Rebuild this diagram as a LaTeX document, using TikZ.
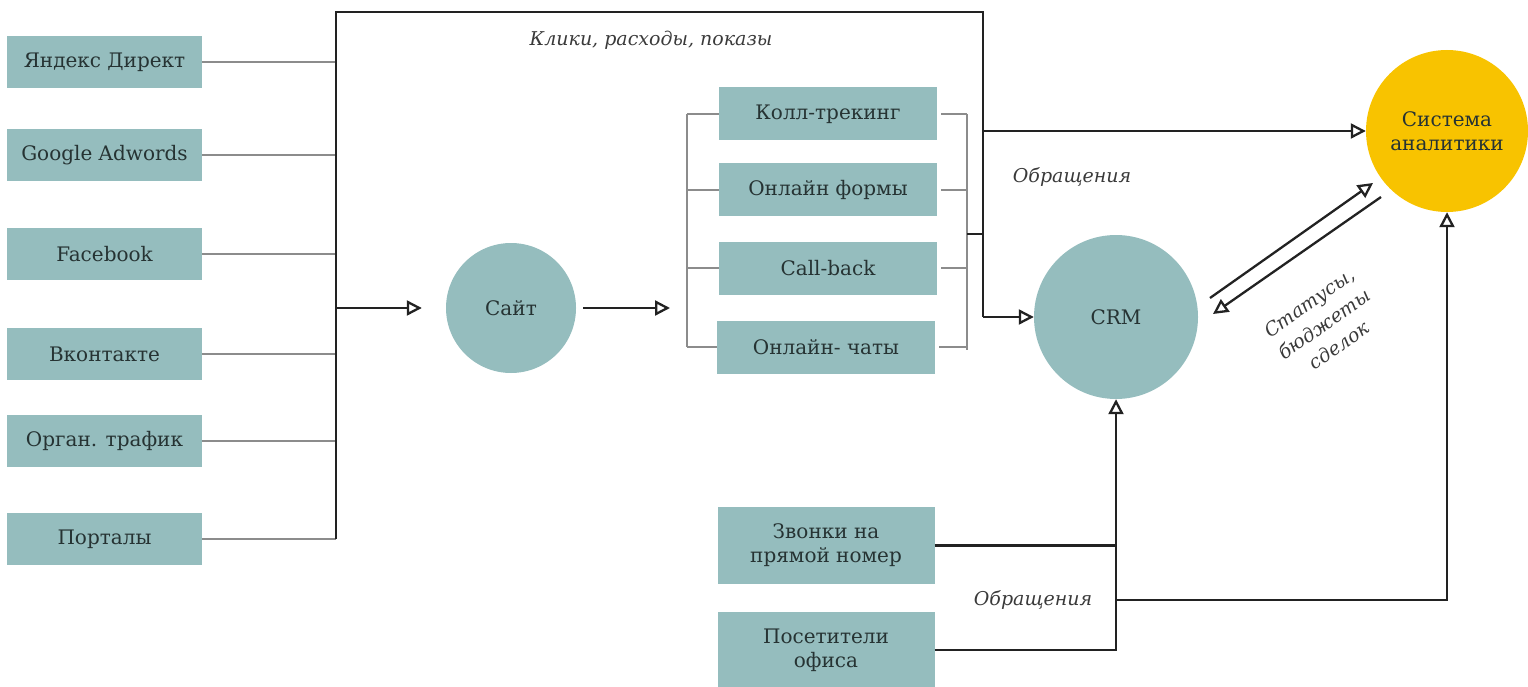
\documentclass[tikz,border=0pt]{standalone}
\usepackage{fontspec}
\setmainfont{DejaVu Serif}
\usetikzlibrary{arrows.meta}
\definecolor{boxc}{HTML}{95BDBE}
\definecolor{yel}{HTML}{F8C300}
\definecolor{txt}{HTML}{263333}
\definecolor{thin}{HTML}{8C8C8C}
\definecolor{dark}{HTML}{222222}
\definecolor{labc}{HTML}{3A3A3A}
\begin{document}
\begin{tikzpicture}[x=1pt,y=-1pt,
  box/.style={fill=boxc, minimum width=195pt, minimum height=52pt, inner sep=0pt, text=txt, font=\fontsize{20}{24}\selectfont, align=center},
  mbox/.style={box, minimum width=218pt, minimum height=53pt},
  bbox/.style={box, minimum width=217pt, minimum height=77pt},
  circ/.style={circle, fill=boxc, inner sep=0pt, text=txt, font=\fontsize{20}{24}\selectfont, align=center},
  thinl/.style={draw=thin, line width=1.5pt},
  bus/.style={draw=dark, line width=2.3pt},
  arr/.style={-{Triangle[open,length=15pt,width=15pt,line width=2.3pt]}},
  lab/.style={font=\fontsize{19}{23}\selectfont\itshape, text=labc, align=center}
]
\useasboundingbox (0,0) rectangle (1528,687);
% left sources
\node[box] (yd) at (104.5,62) {Яндекс Директ};
\node[box] (ga) at (104.5,155) {Google Adwords};
\node[box] (fb) at (104.5,254) {Facebook};
\node[box] (vk) at (104.5,354) {Вконтакте};
\node[box] (ot) at (104.5,441) {Орган. трафик};
\node[box] (pt) at (104.5,539) {Порталы};
% circles
\node[circ, minimum size=130pt] (site) at (511,308) {Сайт};
\node[circ, minimum size=164pt] (crm) at (1116,317) {CRM};
\node[circ, fill=yel, minimum size=162pt] (an) at (1447,131) {Система\\аналитики};
% middle boxes
\node[mbox] (kt) at (828,114) {Колл-трекинг};
\node[mbox] (of) at (828,190) {Онлайн формы};
\node[mbox] (cb) at (828,268) {Call-back};
\node[mbox] (oc) at (826,347) {Онлайн- чаты};
% bottom boxes
\node[bbox] (zv) at (826,545.5) {Звонки на\\прямой номер};
\node[bbox] (po) at (826,650) {Посетители\\офиса};
% coordinates
\coordinate (bt) at (336,12);
\coordinate (bb) at (336,539);
\coordinate (tr) at (983,12);
\coordinate (lb) at (687,114);
\coordinate (lbb) at (687,347);
\coordinate (rb) at (967,114);
\coordinate (rbb) at (967,350);
\coordinate (rj) at (967,234);
\coordinate (j) at (1116,600);
\coordinate (aa) at (1210,298);
\coordinate (ab) at (1373,183);
\coordinate (ba) at (1381,197);
\coordinate (bb2) at (1213,314);
% source lines
\foreach \n in {yd,ga,fb,vk,ot,pt} \draw[thinl] (\n.east) -- (\n.east -| bt);
\draw[bus] (bb) -- (bt) -- (tr) -- (tr |- crm.west);
\draw[bus,arr] (tr |- crm.west) -- (crm.west);
\draw[bus,arr] (tr |- an.west) -- (an.west);
\draw[bus,arr,shorten >=24pt] (bt |- site.west) -- (site.west);
\draw[bus,arr] ([xshift=7pt]site.east) -- ([xshift=-17pt]lb |- site.east);
% middle bracket
\draw[thinl] (lb) -- (lbb);
\foreach \n in {kt,of,cb,oc} \draw[thinl] (\n.west -| lb) -- (\n.west);
\draw[thinl] (rb) -- (rbb);
\foreach \n in {kt,of,cb,oc} \draw[thinl] ([xshift=4pt]\n.east) -- (\n.east -| rb);
\draw[bus] (rj) -- (rj -| tr);
% diagonals
\draw[bus,arr] (aa) -- (ab);
\draw[bus,arr] (ba) -- (bb2);
% bottom
\draw[bus] (zv.east) -- (zv.east -| crm.south);
\draw[bus,arr] (po.east) -- (po.east -| crm.south) -- (crm.south);
\draw[bus,arr] (j) -- (j -| an.south) -- (an.south);
% labels
\node[lab] (l1) at (651,40) {Клики, расходы, показы};
\node[lab] (l2) at (1072,177) {Обращения};
\node[lab] (l3) at (1033,600) {Обращения};
\node[lab, rotate=35, font=\fontsize{19}{26}\selectfont\itshape] (l4) at (1324,324) {Статусы,\\бюджеты\\сделок};
\end{tikzpicture}
\end{document}
